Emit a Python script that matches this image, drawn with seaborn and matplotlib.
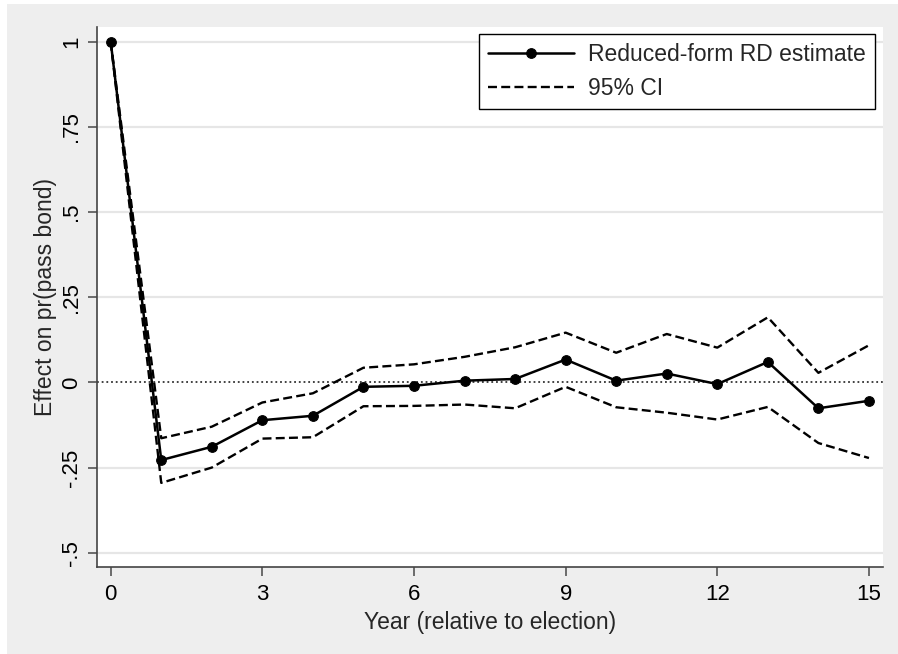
import matplotlib
matplotlib.use("Agg")
import matplotlib.pyplot as plt
import matplotlib.patches as mpatches
import seaborn as sns
import pandas as pd

years = list(range(0, 16))
estimate = [1.0, -0.228, -0.189, -0.111, -0.098, -0.013, -0.010, 0.005, 0.010,
            0.067, 0.005, 0.026, -0.005, 0.060, -0.076, -0.054]
ci_upper = [1.0, -0.164, -0.130, -0.059, -0.032, 0.043, 0.053, 0.075, 0.103,
            0.146, 0.087, 0.142, 0.102, 0.191, 0.028, 0.109]
ci_lower = [1.0, -0.295, -0.250, -0.165, -0.161, -0.070, -0.069, -0.065, -0.076,
            -0.013, -0.073, -0.089, -0.109, -0.072, -0.178, -0.222]
x_ticks = [0, 3, 6, 9, 12, 15]
y_ticks = [-0.5, -0.25, 0, 0.25, 0.5, 0.75, 1]
y_tick_labels = ["-.5", "-.25", "0", ".25", ".5", ".75", "1"]

sns.set_theme(style="white")
plt.rcParams['font.family'] = ['Liberation Sans', 'DejaVu Sans']

df = pd.DataFrame({"year": years, "est": estimate, "hi": ci_upper, "lo": ci_lower})

W, H = 898, 654
fig = plt.figure(figsize=(W / 100, H / 100), dpi=100, facecolor="white")
bg = mpatches.Rectangle((7 / W, 0), 1 - 7 / W, 1 - 4 / H,
                        transform=fig.transFigure, facecolor="#EEEEEE",
                        edgecolor="none", zorder=-10)
fig.patches.append(bg)
left, right = 96.7 / W, 883 / W
bottom, top = 1 - 566.7 / H, 1 - 26.7 / H
ax = fig.add_axes([left, bottom, right - left, top - bottom])
ax.set_zorder(1)
ax.set_facecolor("white")

for yt in y_ticks:
    if yt != 0:
        ax.axhline(yt, color="#E6E6E6", lw=1.6, zorder=0)
ax.axhline(0, color="#333333", lw=1.3, ls=(0, (1, 1.6)), zorder=1)

dash = (0, (3.8, 1.8))
sns.lineplot(data=df, x="year", y="lo", ax=ax, color="black", lw=1.7,
             linestyle=dash, label="95% CI", zorder=2)
sns.lineplot(data=df, x="year", y="hi", ax=ax, color="black", lw=1.7,
             linestyle=dash, label="_nolegend_", zorder=2)
sns.lineplot(data=df, x="year", y="est", ax=ax, color="black", lw=1.8,
             marker="o", markersize=10, markeredgecolor="black",
             label="Reduced-form RD estimate", zorder=3)

ax.set_xlim(-0.277, 15.278)
ax.set_ylim(-0.541, 1.044)
ax.set_xticks(x_ticks)
ax.set_xticklabels([str(v) for v in x_ticks])
ax.set_yticks(y_ticks)
ax.set_yticklabels(y_tick_labels, rotation=90, va="center")

for s in ["top", "right"]:
    ax.spines[s].set_visible(False)
for s in ["left", "bottom"]:
    ax.spines[s].set_color("#444444")
    ax.spines[s].set_linewidth(1.2)

ax.tick_params(axis="both", direction="out", length=6.5, width=1.2,
               color="#555555", labelsize=16, labelcolor="black", pad=6,
               left=True, bottom=True)
ax.tick_params(axis="y", pad=4)
ax.set_xlabel("Year (relative to election)", fontsize=16.5, labelpad=4)
ax.set_ylabel("Effect on pr(pass bond)", fontsize=16.5, labelpad=3)

handles, labels = ax.get_legend_handles_labels()
order = [labels.index("Reduced-form RD estimate"), labels.index("95% CI")]
handles[order[0]].set_markersize(7)
leg = ax.legend([handles[i] for i in order], [labels[i] for i in order],
                loc="upper right", bbox_to_anchor=(0.9898, 0.9859),
                borderaxespad=0, fontsize=16.5, frameon=True, fancybox=False,
                handlelength=3.75, handletextpad=0.6, labelspacing=0.45,
                borderpad=0.4, numpoints=1)
leg.get_frame().set_edgecolor("black")
leg.get_frame().set_linewidth(1.0)
leg.get_frame().set_facecolor("white")
leg.get_frame().set_alpha(1)

fig.savefig("out.png", dpi=100, facecolor=fig.get_facecolor())
